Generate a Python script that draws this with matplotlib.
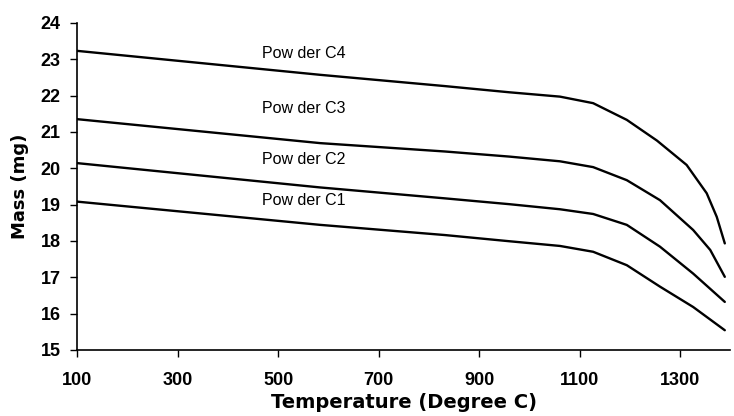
import matplotlib
matplotlib.use("Agg")
import matplotlib.pyplot as plt

plt.rcParams['font.family'] = ['Liberation Sans', 'DejaVu Sans']

c4_t = [100, 584, 832, 960, 1061, 1127, 1194, 1254, 1313, 1353, 1373, 1389]
c4_m = [23.23, 22.57, 22.26, 22.09, 21.97, 21.79, 21.33, 20.76, 20.09, 19.31, 18.66, 17.93]
c3_t = [100, 584, 832, 960, 1061, 1127, 1194, 1260, 1326, 1360, 1389]
c3_m = [21.35, 20.69, 20.46, 20.32, 20.19, 20.03, 19.67, 19.12, 18.30, 17.75, 17.01]
c2_t = [100, 584, 832, 960, 1061, 1127, 1194, 1260, 1326, 1389]
c2_m = [20.14, 19.47, 19.17, 19.01, 18.87, 18.74, 18.44, 17.84, 17.10, 16.32]
c1_t = [100, 584, 832, 960, 1061, 1127, 1194, 1260, 1326, 1389]
c1_m = [19.08, 18.44, 18.16, 17.99, 17.86, 17.70, 17.33, 16.74, 16.18, 15.54]

labels = ["Pow der C4", "Pow der C3", "Pow der C2", "Pow der C1"]
label_x = [551, 551, 551, 551]
label_y = [23.15, 21.63, 20.25, 19.10]

x_ticks = [100, 300, 500, 700, 900, 1100, 1300]
y_ticks = [15, 16, 17, 18, 19, 20, 21, 22, 23, 24]

fig = plt.figure(figsize=(7.34, 4.16), dpi=100)
ax = fig.add_axes([0.105, 0.159, 0.89, 0.786])

for t, m in [(c4_t, c4_m), (c3_t, c3_m), (c2_t, c2_m), (c1_t, c1_m)]:
    ax.plot(t, m, color='black', lw=1.7, solid_joinstyle='round', solid_capstyle='round')

for lab, lx, ly in zip(labels, label_x, label_y):
    ax.text(lx, ly, lab, ha='center', va='center', fontsize=11.5, color='black')

ax.set_xlim(100, 1400)
ax.set_ylim(15, 24)
ax.set_xticks(x_ticks)
ax.set_yticks(y_ticks)
ax.spines['top'].set_visible(False)
ax.spines['right'].set_visible(False)
ax.spines['left'].set_linewidth(1.2)
ax.spines['bottom'].set_linewidth(1.2)
ax.tick_params(direction='out', length=5, width=1.0, labelsize=13)
ax.tick_params(axis='x', pad=11)
ax.tick_params(axis='y', pad=7)
for lbl in ax.get_xticklabels() + ax.get_yticklabels():
    lbl.set_fontweight('bold')
ax.set_xlabel('Temperature (Degree C)', fontsize=14, fontweight='bold',
              family='DejaVu Sans', labelpad=3)
ax.set_ylabel('Mass (mg)', fontsize=13, fontweight='bold',
              family='DejaVu Sans', labelpad=8)

fig.savefig('out.png', dpi=100)
